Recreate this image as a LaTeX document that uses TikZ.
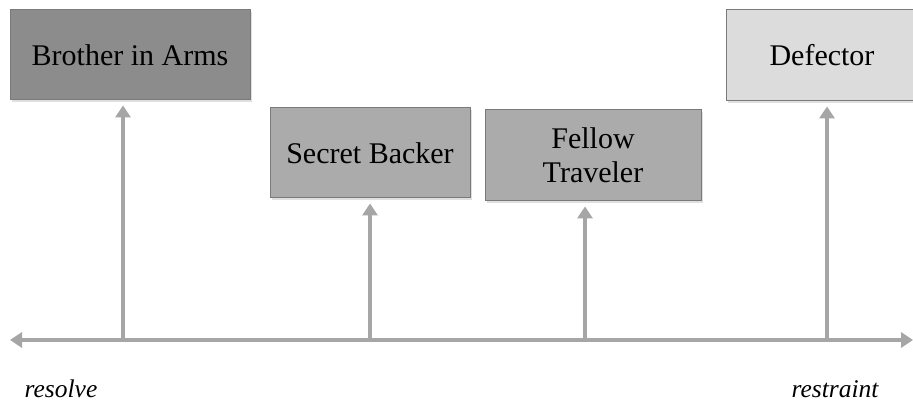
\documentclass[tikz,border=0pt]{standalone}
\usepackage{fontspec}
\setmainfont{Liberation Serif}
\usetikzlibrary{arrows.meta,shadows}
\definecolor{linegray}{HTML}{A6A6A6}
\definecolor{darkfill}{HTML}{8C8C8C}
\definecolor{midfill}{HTML}{ABABAB}
\definecolor{lightfill}{HTML}{DCDCDC}
\definecolor{boxborder}{HTML}{7A7A7A}
\tikzset{
  catbox/.style={draw=boxborder, line width=1pt, rectangle, align=center,
    font=\fontsize{30}{36}\selectfont, text=black,
    drop shadow={opacity=0.25, shadow xshift=1.5pt, shadow yshift=-2pt}},
  conn/.style={draw=linegray, line width=3.6pt,
    -{Triangle[width=15pt,length=12pt]}, shorten >=5pt},
  axisline/.style={draw=linegray, line width=3.6pt,
    {Triangle[width=15pt,length=12pt]}-{Triangle[width=15pt,length=12pt]}},
  endlabel/.style={font=\fontsize{25.5}{28}\selectfont\itshape, text=black}
}
\begin{document}
\begin{tikzpicture}[x=1pt,y=1pt]
\clip (0,0) rectangle (913,403);
\fill[white] (0,0) rectangle (913,403);
\node[catbox, fill=darkfill, minimum width=240pt, minimum height=90pt] (bia) at (130,348) {Brother in Arms};
\node[catbox, fill=midfill, minimum width=200pt, minimum height=90pt] (sb) at (370,250) {Secret Backer};
\node[catbox, fill=midfill, minimum width=216pt, minimum height=91pt] (ft) at (593,247.5) {Fellow\\[-2pt]Traveler};
\node[catbox, fill=lightfill, minimum width=192pt, minimum height=91pt] (def) at (822,347.5) {Defector};
\coordinate (left) at (10,63);
\coordinate (right) at (913,63);
\coordinate (a1) at (123,63);
\coordinate (a2) at (370,63);
\coordinate (a3) at (585,63);
\coordinate (a4) at (827,63);
\draw[axisline] (left) -- (right);
\draw[conn] (a1) -- (a1 |- bia.south);
\draw[conn] (a2) -- (a2 |- sb.south);
\draw[conn] (a3) -- (a3 |- ft.south);
\draw[conn] (a4) -- (a4 |- def.south);
\node[endlabel] (res) at (61,14) {resolve};
\node[endlabel] (rst) at (835,14) {restraint};
\end{tikzpicture}
\end{document}
